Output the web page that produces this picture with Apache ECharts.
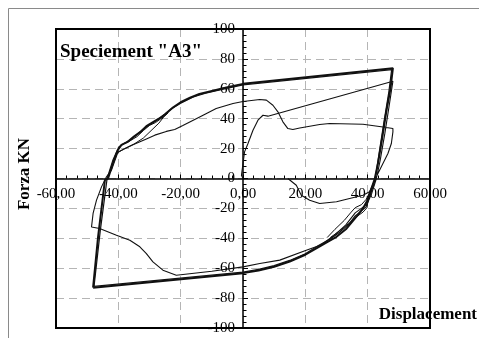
<!DOCTYPE html>
<html>
<head>
<meta charset="utf-8">
<script src="https://cdn.jsdelivr.net/npm/echarts@6/dist/echarts.min.js"></script>
<style>html,body{margin:0;padding:0;background:#fff}#c{width:479px;height:338px}</style>
</head>
<body>
<div id="c"></div>
<script>
// ---- data (displacement, force) ----
const titleText = 'Speciement "A3"';
const xName = 'Displacement';
const yName = 'Forza KN';
const xTicks = [-60, -40, -20, 0, 20, 40, 60];
const yTicks = [-100, -80, -60, -40, -20, 0, 20, 40, 60, 80, 100];

// main (largest) cycle
const outerLoop = [
  [-48.1,-73.0],[-46.5,-39],[-44.3,-1],[-43.3,0],[-41.6,11],[-40.2,19],[-39,22.5],[-37,24.5],[-35,28],
  [-33,31],[-31,35],[-29,37.5],[-27,40],[-25,43],[-22.5,47.5],[-20,51],[-17,54],[-14,56.5],
  [-10,58.5],[-5,61],[0,63.3],[48.1,73.8],[47.3,60],[46,45],[44.5,25],[43.3,10],[42.3,0],
  [41,-8],[39.8,-15],[38.5,-20],[37,-24],[35,-29],[33,-34],[30,-39],[27,-42.5],[24.5,-45.5],
  [20,-51],[15,-55.5],[10,-59],[5,-61.5],[0,-63.3],[-48.1,-73.0]
];
// repeated cycle (nearly superimposed)
const outerLoop2 = [
  [-47.8,-72.2],[-45.8,-35],[-43.6,0],[-41.8,12],[-40.5,18],[-39.5,21.5],[-38,23.5],[-36,26],
  [-34,29.5],[-32,33],[-30,36],[-28,38.5],[-26,41.5],[-23,46.5],[-20,50.3],[-16,54.5],[-12,57],
  [-6,60],[0,62.6],[47.7,72.8],[46.8,58],[45.4,40],[43.9,20],[42.8,5],[42.0,-4],[40.6,-12],
  [39.5,-19],[37.8,-22],[36,-25],[34,-30.5],[31,-36],[28,-40.5],[24.5,-44.5],[20,-50.3],
  [15,-54.8],[10,-58.3],[5,-60.8],[0,-62.6],[-47.8,-72.2]
];
// small repeated loops, upper-left
const loopUpperLeftA = [[-40.2,20.5],[-38.5,23],[-36,25.5],[-34,28],[-32,32],[-30,35.5],[-28,37.5],[-26,40.5],[-24,44]];
const loopUpperLeftB = [[-40.4,17],[-38,20],[-35,23],[-32,27],[-29.5,32],[-27,37],[-25.5,41],[-24,44]];
// small repeated loops, lower-right
const loopLowerRightA = [[41.5,-5],[40.3,-12],[39.8,-19.5],[38.5,-22.5],[36.5,-25.5],[34,-30],[31,-35],[28,-39.5]];
const loopLowerRightB = [[41,-8],[39.5,-14],[38,-17.5],[36,-19.5],[34.5,-23],[32.5,-28],[29.5,-34],[27,-39.5]];
// first (inner) cycle
const innerCycle = [
  [0,0],[-0.5,2.2],[0,10],[0.5,17.8],[1.6,23.4],[3.2,32.3],[4.8,39],[6.4,42.3],[8,41.7],
  [48.1,65.1],[47,50],[45.5,30],[44,12],[42.8,0],[41.3,-10],[39.8,-17],[38,-20],[36,-23],
  [33,-31],[29,-38.5],[25,-44.5],[20.3,-48],[11.8,-54.6],[5.4,-56.9],[0,-59.1],[-10,-62],
  [-21.4,-64.7],[-25.7,-61.3],[-28.9,-55.8],[-31,-50.2],[-33.1,-45.7],[-36.3,-41.3],
  [-40.6,-37.9],[-46,-33.4],[-48.6,-32.4],[-48.1,-23.4],[-47,-14.5],[-45.4,-5.6],[-43.8,1.1],
  [-42.2,5.6],[-40.1,17.8],[-35.3,22.5],[-31,26.5],[-28.3,29],[-24.6,31.5],[-21.9,32.8],
  [-19.3,35.5],[-13.9,41.2],[-8.6,46.8],[-3.2,50.2],[0,51.5],[5.4,52.8],[7.5,52.4],[9.6,49],
  [11.2,44.6],[12.8,37.9],[14.4,33.4],[16,32.8],[18.2,33.8],[24.6,36.1],[27.8,36.8],[38.5,36.3],
  [44.9,34.5],[48.1,33.4],[48.1,31.2],[47.6,23.4],[46.5,16.7],[44.9,10],[43.3,3.3],[42.3,-1.1],
  [40.6,-8.9],[38.5,-11.2],[34.2,-13.4],[30,-15.6],[24.6,-16.7],[21.4,-14.5],[18.7,-11.2],
  [17.1,-4.5],[14.4,0]
];

const serif = '"Liberation Serif","DejaVu Serif",serif';
const fmtX = v => v.toFixed(2).replace('.', ',');

function lineSeries(data, width) {
  return {
    type: 'line', data: data, showSymbol: false, symbol: 'none', smooth: false,
    lineStyle: { color: '#111', width: width }, z: 3, animation: false
  };
}

const G = { left: 56, right: 49, top: 29, bottom: 10 };
const plotW = 479 - G.left - G.right, plotH = 338 - G.top - G.bottom;

const chart = echarts.init(document.getElementById('c'), null, { renderer: 'canvas' });
chart.setOption({
  animation: false,
  backgroundColor: '#fff',
  grid: Object.assign({ containLabel: false }, G),
  xAxis: {
    type: 'value', position: 'bottom', offset: -plotH / 2,
    min: xTicks[0], max: xTicks[xTicks.length - 1], interval: 20,
    axisLine: { onZero: false, lineStyle: { color: '#000', width: 1.5 } },
    axisTick: { inside: true, length: 4, lineStyle: { color: '#000' } },
    minorTick: { show: true, splitNumber: 6, length: 3, lineStyle: { color: '#000' } },
    axisLabel: { formatter: fmtX, fontFamily: serif, fontSize: 15, color: '#000', margin: 8 },
    splitLine: { show: true, lineStyle: { color: '#b5b5b5', type: [8, 5], width: 1 } }
  },
  yAxis: {
    type: 'value', position: 'left', offset: -plotW / 2,
    min: yTicks[0], max: yTicks[yTicks.length - 1], interval: 20,
    axisLine: { onZero: false, lineStyle: { color: '#000', width: 1.5 } },
    axisTick: { inside: true, length: 5, lineStyle: { color: '#000' } },
    minorTick: { show: true, splitNumber: 5, length: 3.5, lineStyle: { color: '#000' } },
    axisLabel: { fontFamily: serif, fontSize: 15, color: '#000', margin: 8 },
    splitLine: { show: true, lineStyle: { color: '#b5b5b5', type: [8, 5], width: 1 } }
  },
  series: [
    lineSeries(outerLoop, 2),
    lineSeries(outerLoop2, 1.2),
    lineSeries(loopUpperLeftA, 1),
    lineSeries(loopUpperLeftB, 1),
    lineSeries(loopLowerRightA, 1),
    lineSeries(loopLowerRightB, 1),
    lineSeries(innerCycle, 1.1)
  ],
  graphic: [
    { type: 'line', shape: { x1: 8.5, y1: 8.5, x2: 479, y2: 8.5 }, style: { stroke: '#8a8a8a', lineWidth: 1 }, silent: true },
    { type: 'line', shape: { x1: 8.5, y1: 8.5, x2: 8.5, y2: 338 }, style: { stroke: '#8a8a8a', lineWidth: 1 }, silent: true },
    { type: 'rect', shape: { x: G.left, y: G.top, width: plotW, height: plotH }, style: { fill: null, stroke: '#000', lineWidth: 2 }, z: 100, silent: true },
    { type: 'text', left: 60, top: 43, z: 101, style: { text: titleText, font: 'bold 19px ' + serif, fill: '#000' } },
    { type: 'text', x: 25, y: 174, rotation: Math.PI / 2, z: 101,
      style: { text: yName, font: 'bold 17px ' + serif, fill: '#000', align: 'center', verticalAlign: 'middle' } },
    { type: 'text', x: 477, y: 315, z: 101,
      style: { text: xName, font: 'bold 17px ' + serif, fill: '#000', align: 'right', verticalAlign: 'middle' } }
  ]
});
</script>
</body>
</html>
